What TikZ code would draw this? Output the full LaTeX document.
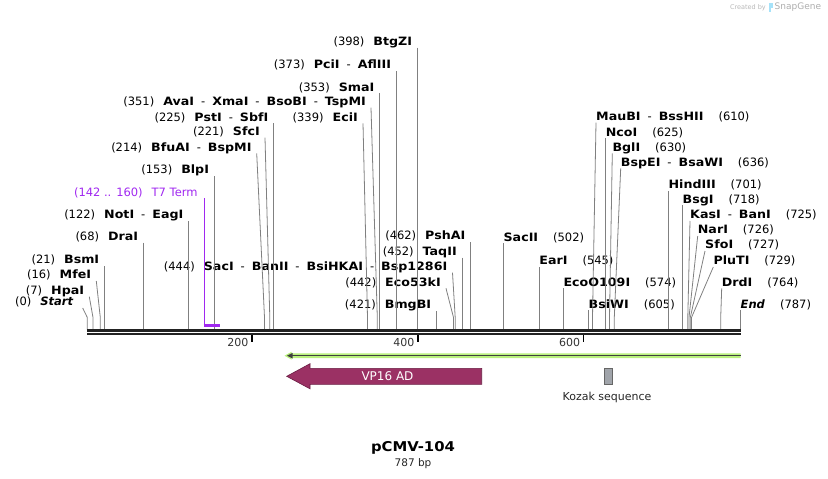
\documentclass[tikz,border=0pt]{standalone}
\usepackage{fontspec}
\setmainfont{DejaVu Sans}[BoldFeatures={FakeStretch=1.1}]
\definecolor{vpfill}{RGB}{155,49,100}
\definecolor{vpline}{RGB}{105,28,66}
\definecolor{tterm}{RGB}{160,40,240}
\definecolor{orfglow}{RGB}{185,240,125}
\definecolor{kozfill}{RGB}{160,164,170}
\definecolor{mapbar}{RGB}{34,34,34}
\begin{document}
\begin{tikzpicture}[x=1pt,y=-1pt,
  enz/.style={inner xsep=5pt,inner ysep=0pt,text depth=2pt,font=\fontsize{11.5}{13}\selectfont},
  enzl/.style={enz,anchor=south east},
  enzr/.style={enz,anchor=south west,inner xsep=0pt},
  leader/.style={draw=black!50,line width=0.8pt},
  tick/.style={draw=black,line width=1.4pt},
  ticklabel/.style={anchor=base east,inner sep=0pt,text=black!80,font=\fontsize{11}{13}\selectfont}]
\useasboundingbox (0,0) rectangle (828,479);
% sites on the map
\coordinate (elb) at (0,317.5);
\coordinate (s0) at (87.3,329.5);
\coordinate (s7) at (93.0,329.5);
\coordinate (s16) at (100.3,329.5);
\coordinate (s21) at (104.4,329.5);
\coordinate (s68) at (143.3,329.5);
\coordinate (s122) at (188.5,329.5);
\coordinate (s153) at (214.2,329.5);
\coordinate (s214) at (264.5,329.5);
\coordinate (s221) at (269.8,329.5);
\coordinate (s225) at (273.5,329.5);
\coordinate (s339) at (367.5,329.5);
\coordinate (s351) at (377.3,329.5);
\coordinate (s353) at (379.5,329.5);
\coordinate (s373) at (396.3,329.5);
\coordinate (s398) at (417.3,329.5);
\coordinate (s421) at (436.3,329.5);
\coordinate (s442) at (453.5,329.5);
\coordinate (s444) at (455.2,329.5);
\coordinate (s452) at (461.9,329.5);
\coordinate (s462) at (470.5,329.5);
\coordinate (s502) at (503.4,329.5);
\coordinate (s545) at (539.2,329.5);
\coordinate (s574) at (563.3,329.5);
\coordinate (s605) at (588.5,329.5);
\coordinate (s610) at (592.5,329.5);
\coordinate (s625) at (605.6,329.5);
\coordinate (s630) at (609.5,329.5);
\coordinate (s636) at (614.3,329.5);
\coordinate (s701) at (668.4,329.5);
\coordinate (s718) at (682.5,329.5);
\coordinate (s725) at (687.8,329.5);
\coordinate (s726) at (689.0,329.5);
\coordinate (s727) at (690.3,329.5);
\coordinate (s729) at (691.5,329.5);
\coordinate (s764) at (720.7,329.5);
\coordinate (s787) at (740.5,329.5);
% labels left of their sites
\node[enzl,inner xsep=9pt] (start) at (82.7,308) {(0)\hspace{9pt}\textbf{\textit{Start}}};
\node[enzl] (hpaI) at (89.3,296.7) {(7)\hspace{9pt}\textbf{HpaI}};
\node[enzl] (mfeI) at (96.3,281) {(16)\hspace{9pt}\textbf{MfeI}};
\node[enzl] (bsmI) at (104.4,266) {(21)\hspace{9pt}\textbf{BsmI}};
\node[enzl] (draI) at (143.3,242.7) {(68)\hspace{9pt}\textbf{DraI}};
\node[enzl] (notI) at (188.5,221) {(122)\hspace{9pt}\textbf{NotI}\hspace{7pt}-\hspace{7pt}\textbf{EagI}};
\node[enzl] (blpI) at (214.2,176) {(153)\hspace{9pt}\textbf{BlpI}};
\node[enzl] (bfuAI) at (256.7,153.3) {(214)\hspace{9pt}\textbf{BfuAI}\hspace{7pt}-\hspace{7pt}\textbf{BspMI}};
\node[enzl] (sfcI) at (265,137.7) {(221)\hspace{9pt}\textbf{SfcI}};
\node[enzl] (pstI) at (273.5,123.3) {(225)\hspace{9pt}\textbf{PstI}\hspace{7pt}-\hspace{7pt}\textbf{SbfI}};
\node[enzl] (eciI) at (363,123.3) {(339)\hspace{9pt}\textbf{EciI}};
\node[enzl] (avaI) at (371,107.7) {(351)\hspace{9pt}\textbf{AvaI}\hspace{7pt}-\hspace{7pt}\textbf{XmaI}\hspace{7pt}-\hspace{7pt}\textbf{BsoBI}\hspace{7pt}-\hspace{7pt}\textbf{TspMI}};
\node[enzl] (smaI) at (379.5,93.3) {(353)\hspace{9pt}\textbf{SmaI}};
\node[enzl] (pciI) at (396.3,71) {(373)\hspace{9pt}\textbf{PciI}\hspace{7pt}-\hspace{7pt}\textbf{AflIII}};
\node[enzl] (btgZI) at (417.3,47.7) {(398)\hspace{9pt}\textbf{BtgZI}};
\node[enzl] (sacI) at (452.5,272.7) {(444)\hspace{9pt}\textbf{SacI}\hspace{7pt}-\hspace{7pt}\textbf{BanII}\hspace{7pt}-\hspace{7pt}\textbf{BsiHKAI}\hspace{7pt}-\hspace{7pt}\textbf{Bsp1286I}};
\node[enzl] (bmgBI) at (436.3,311) {(421)\hspace{9pt}\textbf{BmgBI}};
\node[enzl] (eco53kI) at (446,288.3) {(442)\hspace{9pt}\textbf{Eco53kI}};
\node[enzl] (taqII) at (461.9,257.7) {(452)\hspace{9pt}\textbf{TaqII}};
\node[enzl] (pshAI) at (470.5,242) {(462)\hspace{9pt}\textbf{PshAI}};
% labels right of their sites
\node[enzr] (sacII) at (503.4,243.3) {\textbf{SacII}\hspace{15pt}(502)};
\node[enzr] (earI) at (539.2,267) {\textbf{EarI}\hspace{15pt}(545)};
\node[enzr] (ecoO109I) at (563.3,288.3) {\textbf{EcoO109I}\hspace{15pt}(574)};
\node[enzr] (bsiWI) at (588.5,310.3) {\textbf{BsiWI}\hspace{15pt}(605)};
\node[enzr] (mauBI) at (596,122.7) {\textbf{MauBI}\hspace{7pt}-\hspace{7pt}\textbf{BssHII}\hspace{15pt}(610)};
\node[enzr] (ncoI) at (605.6,138.3) {\textbf{NcoI}\hspace{15pt}(625)};
\node[enzr] (bglI) at (612.3,153.3) {\textbf{BglI}\hspace{15pt}(630)};
\node[enzr] (bspEI) at (620.7,168.3) {\textbf{BspEI}\hspace{7pt}-\hspace{7pt}\textbf{BsaWI}\hspace{15pt}(636)};
\node[enzr] (hindIII) at (668.4,191) {\textbf{HindIII}\hspace{15pt}(701)};
\node[enzr] (bsgI) at (682.5,205.3) {\textbf{BsgI}\hspace{15pt}(718)};
\node[enzr] (kasI) at (690,221) {\textbf{KasI}\hspace{7pt}-\hspace{7pt}\textbf{BanI}\hspace{15pt}(725)};
\node[enzr] (narI) at (697.7,236) {\textbf{NarI}\hspace{15pt}(726)};
\node[enzr] (sfoI) at (705,251) {\textbf{SfoI}\hspace{15pt}(727)};
\node[enzr] (pluTI) at (713.3,267) {\textbf{PluTI}\hspace{15pt}(729)};
\node[enzr] (drdI) at (721.7,288.3) {\textbf{DrdI}\hspace{15pt}(764)};
\node[enzr] (end) at (740.5,310.3) {\textbf{\textit{End}}\hspace{15pt}(787)};
% leaders
\draw[leader] (start.south east) -- (s0 |- elb) -- (s0);
\draw[leader] (hpaI.south east) -- (s7 |- elb) -- (s7);
\draw[leader] (mfeI.south east) -- (s16 |- elb) -- (s16);
\draw[leader] (bsmI.south east) -- (s21);
\draw[leader] (draI.south east) -- (s68);
\draw[leader] (notI.south east) -- (s122);
\draw[leader] (blpI.south east) -- (s153);
\draw[leader] (bfuAI.south east) -- (s214 |- elb) -- (s214);
\draw[leader] (sfcI.south east) -- (s221 |- elb) -- (s221);
\draw[leader] (pstI.south east) -- (s225);
\draw[leader] (eciI.south east) -- (s339 |- elb) -- (s339);
\draw[leader] (avaI.south east) -- (s351 |- elb) -- (s351);
\draw[leader] (smaI.south east) -- (s353);
\draw[leader] (pciI.south east) -- (s373);
\draw[leader] (btgZI.south east) -- (s398);
\draw[leader] (sacI.south east) -- (s444 |- elb) -- (s444);
\draw[leader] (bmgBI.south east) -- (s421);
\draw[leader] (eco53kI.south east) -- (s442 |- elb) -- (s442);
\draw[leader] (taqII.south east) -- (s452);
\draw[leader] (pshAI.south east) -- (s462);
\draw[leader] (sacII.south west) -- (s502);
\draw[leader] (earI.south west) -- (s545);
\draw[leader] (ecoO109I.south west) -- (s574);
\draw[leader] (bsiWI.south west) -- (s605);
\draw[leader] (mauBI.south west) -- (s610 |- elb) -- (s610);
\draw[leader] (ncoI.south west) -- (s625);
\draw[leader] (bglI.south west) -- (s630 |- elb) -- (s630);
\draw[leader] (bspEI.south west) -- (s636 |- elb) -- (s636);
\draw[leader] (hindIII.south west) -- (s701);
\draw[leader] (bsgI.south west) -- (s718);
\draw[leader] (kasI.south west) -- (s725 |- elb) -- (s725);
\draw[leader] (narI.south west) -- (s726 |- elb) -- (s726);
\draw[leader] (sfoI.south west) -- (s727 |- elb) -- (s727);
\draw[leader] (pluTI.south west) -- (s729 |- elb) -- (s729);
\draw[leader] (drdI.south west) -- (s764 |- elb) -- (s764);
\draw[leader] (end.south west) -- (s787);
% T7 terminator
\node[enzl,inner xsep=6.5pt,text=tterm] (t7) at (204.3,198.3) {(142 .. 160)\hspace{9pt}T7 Term};
\coordinate (t7a) at (204.3,325.5);
\coordinate (t7b) at (219.6,325.5);
\draw[tterm,line width=1.2pt] (t7.south east) -- (t7a);
\draw[tterm,line width=2.2pt] ([xshift=-0.6pt]t7a) -- (t7b);
% map bar and ticks
\fill[mapbar] (87.3,329.3) rectangle (740.7,332);
\fill[mapbar] (87.3,332.8) rectangle (740.7,335);
\coordinate (t200) at (251.8,335);
\coordinate (t400) at (418,335);
\coordinate (t600) at (583.6,335);
\draw[tick] (t200) -- ++(0,7.3);
\draw[tick] (t400) -- ++(0,7.3);
\draw[tick] (t600) -- ++(0,7.3);
\node[ticklabel] (l200) at (248.5,346.3) {200};
\node[ticklabel] (l400) at (414.5,346.3) {400};
\node[ticklabel] (l600) at (580.3,346.3) {600};
% open reading frame
\fill[orfglow] (740.7,353.4) -- (291.5,353.4) -- (291.5,351.8) -- (284.5,355.7) -- (291.5,359.6) -- (291.5,358) -- (740.7,358) -- cycle;
\draw[black!75,line width=1.5pt] (740.5,355.7) -- (291,355.7);
\fill[black!75] (287,355.7) -- (292.5,352.9) -- (292.5,358.5) -- cycle;
% features
\filldraw[fill=vpfill,draw=vpline,line width=0.6pt] (481.7,368.3) -- (310,368.3) -- (310,363.7) -- (286.7,376.3) -- (310,388.8) -- (310,384.3) -- (481.7,384.3) -- cycle;
\node[text=white,font=\fontsize{12}{14}\selectfont] (vp16) at (387.5,376.3) {VP16 AD};
\node[draw=black!60,fill=kozfill,minimum width=8pt,minimum height=16pt,inner sep=0pt,line width=0.6pt] (kozak) at (608.3,376.3) {};
\node[font=\fontsize{11}{13}\selectfont,text=black!85] (kozakl) at (607,397.7) {Kozak sequence};
% title
\node[font=\fontsize{13.5}{15}\bfseries] (title) at (413,448.3) {pCMV-104};
\node[font=\fontsize{10.5}{12}\selectfont,text=black!85] (size) at (413,463.6) {787 bp};
% watermark
\node[anchor=east,inner sep=0pt,text=black!28,font=\fontsize{6.5}{8}\selectfont] (made) at (766,7.5) {Created by};
\fill[cyan!35] (768.6,3) rectangle (771.2,12);
\fill[cyan!35] (771.2,3) rectangle (773,7.5);
\node[anchor=west,inner sep=0pt,text=black!32,font=\fontsize{9}{10}\selectfont] (snap) at (774.5,7.5) {SnapGene};
\end{tikzpicture}
\end{document}
